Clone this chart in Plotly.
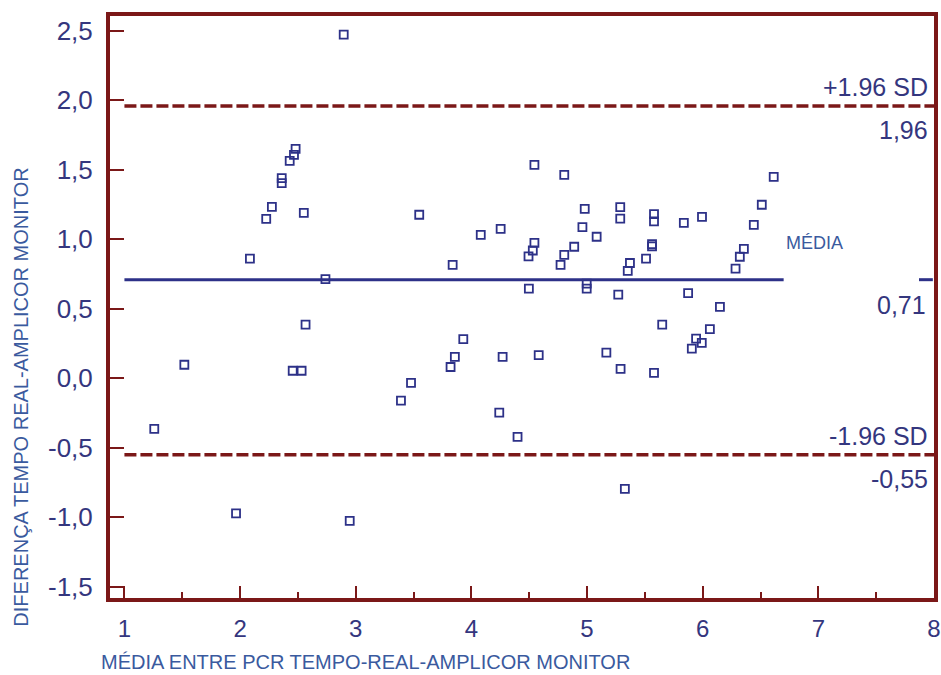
import plotly.graph_objects as go

# Bland-Altman: mean of the two assays vs. their difference
media = [1.258, 1.518, 1.965, 2.085, 2.226, 2.275, 2.360, 2.360, 2.429, 2.466,
         2.480, 2.455, 2.532, 2.551, 2.566, 2.738, 2.896, 2.948, 3.391, 3.478,
         3.549, 3.820, 3.838, 3.857, 3.930, 4.081, 4.241, 4.253, 4.270, 4.399,
         4.494, 4.497, 4.531, 4.545, 4.545, 4.582, 4.771, 4.803, 4.803, 4.889,
         4.960, 4.980, 4.997, 4.997, 5.083, 5.167, 5.270, 5.287, 5.287, 5.290,
         5.327, 5.352, 5.371, 5.510, 5.562, 5.562, 5.579, 5.579, 5.579, 5.650,
         5.837, 5.874, 5.906, 5.943, 5.992, 5.994, 6.062, 6.149, 6.284, 6.321,
         6.356, 6.442, 6.511, 6.614]
diferenca = [-0.363, 0.098, -0.971, 0.861, 1.148, 1.234, 1.441, 1.405, 1.565, 1.608,
             1.651, 0.055, 0.055, 1.191, 0.386, 0.714, 2.473, -1.025, -0.160, -0.033,
             1.177, 0.082, 0.817, 0.154, 0.283, 1.033, -0.246, 1.076, 0.154, -0.421,
             0.877, 0.645, 0.920, 0.975, 1.536, 0.168, 0.817, 0.889, 1.464, 0.947,
             1.088, 1.220, 0.681, 0.645, 1.019, 0.185, 0.602, 1.232, 1.150, 0.068,
             -0.795, 0.774, 0.830, 0.861, 0.965, 0.949, 1.182, 1.129, 0.039, 0.386,
             1.119, 0.614, 0.214, 0.286, 0.255, 1.162, 0.355, 0.515, 0.789, 0.875,
             0.932, 1.105, 1.249, 1.450]

mean_diff = 0.71
upper_loa = 1.96
lower_loa = -0.55
mean_line_x = [1.0, 6.70]
loa_line_x = [1.0, 8.0]
mean_stub_x = [7.87, 7.99]

x_tickvals = [1, 2, 3, 4, 5, 6, 7, 8]
x_ticktext = ["1", "2", "3", "4", "5", "6", "7", "8"]
y_tickvals = [-1.5, -1.0, -0.5, 0.0, 0.5, 1.0, 1.5, 2.0, 2.5]
y_ticktext = ["-1,5", "-1,0", "-0,5", "0,0", "0,5", "1,0", "1,5", "2,0", "2,5"]

FRAME = "#7B1818"
NAVY = "#2D3188"
TEXT = "#34367E"
TITLE = "#3A5A9E"
FONT = "Liberation Sans, Arial, sans-serif"

fig = go.Figure()

# limits of agreement (dashed)
for v in (upper_loa, lower_loa):
    fig.add_trace(go.Scatter(x=loa_line_x, y=[v, v], mode="lines",
                             line=dict(color=FRAME, width=3.5, dash="12px,4px"),
                             hoverinfo="skip", showlegend=False))

# mean difference
fig.add_trace(go.Scatter(x=mean_line_x, y=[mean_diff, mean_diff], mode="lines",
                         line=dict(color=NAVY, width=3), hoverinfo="skip", showlegend=False))
fig.add_trace(go.Scatter(x=mean_stub_x, y=[mean_diff, mean_diff], mode="lines",
                         line=dict(color=NAVY, width=3), hoverinfo="skip", showlegend=False,
                         cliponaxis=False))

fig.add_trace(go.Scatter(x=media, y=diferenca, mode="markers",
                         marker=dict(symbol="square-open", size=8,
                                     line=dict(color=NAVY, width=1.8), color=NAVY),
                         showlegend=False))

def label(text, y, shift, size=25, color=TEXT, x=7.965, xanchor="right"):
    fig.add_annotation(x=x, y=y, xref="x", yref="y", text=text, showarrow=False,
                       xanchor=xanchor, yanchor="middle", yshift=shift,
                       font=dict(family=FONT, size=size, color=color))

label("+1.96 SD", upper_loa, 19)
label(f"{upper_loa:.2f}".replace(".", ","), upper_loa, -24)
label(f"{mean_diff:.2f}".replace(".", ","), mean_diff, -25, x=7.945)
label("-1.96 SD", lower_loa, 19)
label(f"{lower_loa:.2f}".replace(".", ","), lower_loa, -24)
label("MÉDIA", mean_diff, 37, size=18, color=TITLE, x=6.70, xanchor="left")

fig.add_annotation(xref="paper", yref="paper", x=-0.1075, y=0.345, textangle=-90,
                   text="DIFERENÇA TEMPO REAL-AMPLICOR MONITOR", showarrow=False,
                   xanchor="center", yanchor="middle",
                   font=dict(family=FONT, size=20, color=TITLE))
fig.add_annotation(xref="paper", yref="paper", x=0.310, y=-0.1107,
                   text="MÉDIA ENTRE PCR TEMPO-REAL-AMPLICOR MONITOR", showarrow=False,
                   xanchor="center", yanchor="middle",
                   font=dict(family=FONT, size=20, color=TITLE))

fig.update_layout(
    width=941, height=675,
    margin=dict(l=110, r=0, t=16, b=76.5, pad=0),
    paper_bgcolor="white", plot_bgcolor="white",
    font=dict(family=FONT, color=TEXT),
    xaxis=dict(range=[0.8752, 8.0], showgrid=False, zeroline=False,
               showline=True, linecolor=FRAME, linewidth=4, mirror=True,
               tickmode="array", tickvals=x_tickvals, ticktext=x_ticktext,
               ticks="inside", ticklen=12, tickwidth=2, tickcolor=FRAME,
               minor=dict(dtick=0.5, tick0=1, ticks="inside", ticklen=6,
                          tickwidth=2, tickcolor=FRAME, showgrid=False),
               tickfont=dict(family=FONT, size=24, color=TEXT),
               ticklabelstandoff=6, ticklabeloverflow="allow"),
    yaxis=dict(range=[-1.580, 2.607], showgrid=False, zeroline=False,
               showline=True, linecolor=FRAME, linewidth=4, mirror=True,
               tickmode="array", tickvals=y_tickvals, ticktext=y_ticktext,
               ticks="inside", ticklen=14, tickwidth=2, tickcolor=FRAME,
               tickfont=dict(family=FONT, size=26, color=TEXT),
               ticklabelstandoff=8),
)

fig.write_html("out.html")
